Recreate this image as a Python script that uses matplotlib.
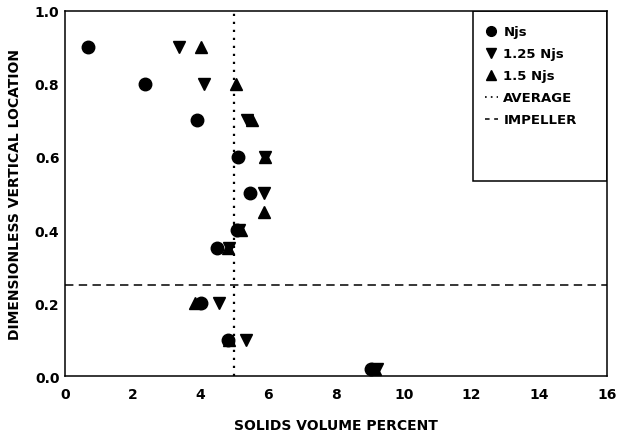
import matplotlib
matplotlib.use("Agg")
import matplotlib.pyplot as plt
from matplotlib.patches import Rectangle
from matplotlib.lines import Line2D

# 数据：三个转速下的固体体积分数与无量纲高度
njs_x = [0.69, 2.36, 3.89, 5.10, 5.46, 5.08, 4.50, 4.02, 4.81, 9.02]
njs_y = [0.90, 0.80, 0.70, 0.60, 0.50, 0.40, 0.35, 0.20, 0.10, 0.02]

n125_x = [3.37, 4.10, 5.37, 5.90, 5.87, 5.15, 4.85, 4.55, 5.33, 9.22]
n125_y = [0.90, 0.80, 0.70, 0.60, 0.50, 0.40, 0.35, 0.20, 0.10, 0.02]

n15_x = [4.03, 5.04, 5.52, 5.90, 5.87, 5.20, 4.80, 3.85, 4.85, 9.15]
n15_y = [0.90, 0.80, 0.70, 0.60, 0.45, 0.40, 0.35, 0.20, 0.10, 0.02]

average_x = 5.0
impeller_y = 0.25

x_ticks = [0, 2, 4, 6, 8, 10, 12, 14, 16]
y_ticks = [0.0, 0.2, 0.4, 0.6, 0.8, 1.0]

plt.rcParams["font.family"] = ["DejaVu Sans"]
plt.rcParams["font.weight"] = "bold"

fig = plt.figure(figsize=(6.2, 4.39), dpi=100)
ax = fig.add_axes([0.1048, 0.1412, 0.8742, 0.8315])

ax.plot(njs_x, njs_y, "o", color="black", markersize=9, linestyle="none")
ax.plot(n125_x, n125_y, "v", color="black", markersize=9, linestyle="none")
ax.plot(n15_x, n15_y, "^", color="black", markersize=9, linestyle="none")

ax.axvline(average_x, color="black", lw=1.6, linestyle=(0, (1, 2.6)))
ax.axhline(impeller_y, color="black", lw=1.1, linestyle=(0, (5.5, 3.5)))

ax.set_xlim(0, 16)
ax.set_ylim(0, 1.0)
ax.set_xticks(x_ticks)
ax.set_xticklabels([str(t) for t in x_ticks])
ax.set_yticks(y_ticks)
ax.set_yticklabels(["%.1f" % t for t in y_ticks])
ax.tick_params(axis="x", length=0, pad=8, labelsize=10)
ax.tick_params(axis="y", length=0, pad=4, labelsize=10)
for s in ax.spines.values():
    s.set_linewidth(1.1)

ax.set_xlabel("SOLIDS VOLUME PERCENT", fontsize=10, fontweight="bold", labelpad=12)
ax.set_ylabel("DIMENSIONLESS VERTICAL LOCATION", fontsize=10, fontweight="bold", labelpad=9)

# 图例框
ax.add_patch(Rectangle((0.753, 0.534), 0.247, 0.466, transform=ax.transAxes,
                       fill=False, edgecolor="black", lw=1.1, zorder=5))

handles = [
    Line2D([], [], marker="o", color="black", linestyle="none", markersize=7),
    Line2D([], [], marker="v", color="black", linestyle="none", markersize=7),
    Line2D([], [], marker="^", color="black", linestyle="none", markersize=7),
    Line2D([], [], color="black", lw=1.2, linestyle=(0, (1, 2.5))),
    Line2D([], [], color="black", lw=1.1, linestyle=(0, (3, 3))),
]
labels = ["Njs", "1.25 Njs", "1.5 Njs", "AVERAGE", "IMPELLER"]
leg = ax.legend(handles, labels, loc="upper left", bbox_to_anchor=(0.765, 0.975),
                frameon=False, handlelength=1.0, handletextpad=0.4,
                labelspacing=0.68, borderaxespad=0, prop={"size": 9.5, "weight": "bold"})

fig.savefig("out.png", dpi=100)
